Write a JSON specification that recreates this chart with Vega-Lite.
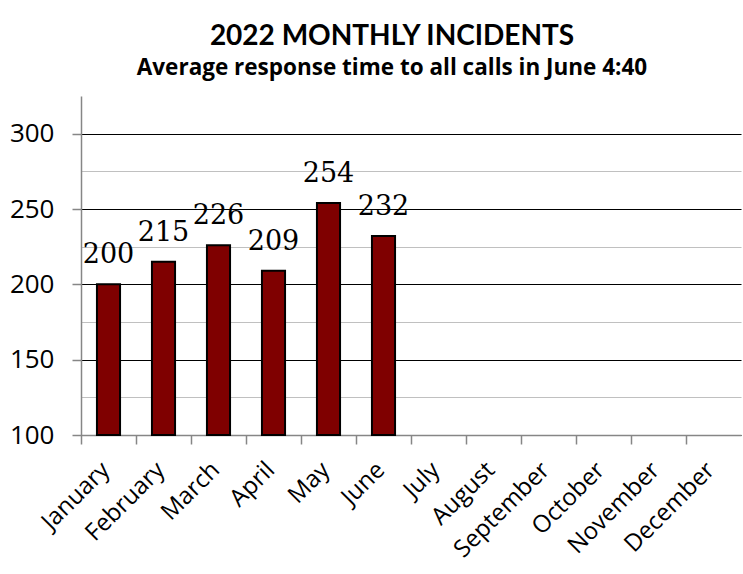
{
  "$schema": "https://vega.github.io/schema/vega-lite/v6.json",
  "width": 660,
  "height": 339,
  "autosize": {"type": "none"},
  "padding": {"left": 81, "top": 96, "right": 2, "bottom": 139},
  "background": "white",
  "title": {
    "text": "2022 MONTHLY INCIDENTS",
    "subtitle": "Average response time to all calls in June 4:40",
    "anchor": "middle",
    "frame": "group",
    "dx": -19,
    "offset": 17,
    "font": "Lato",
    "fontSize": 28,
    "fontWeight": "bold",
    "color": "black",
    "subtitleFont": "Open Sans",
    "subtitleFontSize": 22.5,
    "subtitleFontWeight": "bold",
    "subtitleColor": "black",
    "subtitlePadding": 6
  },
  "data": {
    "values": [
      {"month": "January", "incidents": 200},
      {"month": "February", "incidents": 215},
      {"month": "March", "incidents": 226},
      {"month": "April", "incidents": 209},
      {"month": "May", "incidents": 254},
      {"month": "June", "incidents": 232},
      {"month": "July", "incidents": null},
      {"month": "August", "incidents": null},
      {"month": "September", "incidents": null},
      {"month": "October", "incidents": null},
      {"month": "November", "incidents": null},
      {"month": "December", "incidents": null}
    ]
  },
  "encoding": {
    "x": {
      "field": "month",
      "type": "nominal",
      "sort": null,
      "scale": {
        "domain": ["January", "February", "March", "April", "May", "June", "July", "August", "September", "October", "November", "December"],
        "paddingInner": 0.58,
        "paddingOuter": 0.29
      },
      "axis": {
        "title": null,
        "bandPosition": 0,
        "tickOffset": -16,
        "labelOffset": 13,
        "labelAngle": -45,
        "labelAlign": "right",
        "labelBaseline": "middle",
        "labelFont": "Open Sans",
        "labelFontSize": 24,
        "labelColor": "black",
        "labelPadding": 22,
        "domainColor": "#868686",
        "domainWidth": 1.5,
        "tickColor": "#868686",
        "tickWidth": 1.5,
        "tickSize": 9,
        "grid": false
      }
    },
    "y": {
      "field": "incidents",
      "type": "quantitative",
      "scale": {"domain": [100, 325], "nice": false, "zero": false},
      "axis": {
        "title": null,
        "values": [100, 125, 150, 175, 200, 225, 250, 275, 300],
        "labelExpr": "datum.value % 50 === 0 ? datum.label : ''",
        "labelFont": "Open Sans",
        "labelFontSize": 26,
        "labelColor": "black",
        "labelPadding": 18,
        "domainColor": "#868686",
        "domainWidth": 1.5,
        "tickColor": "#868686",
        "tickWidth": 1.5,
        "tickSize": 9,
        "tickOpacity": {"condition": {"test": "datum.value % 50 === 0", "value": 1}, "value": 0},
        "grid": true,
        "gridColor": {"condition": {"test": "datum.value % 50 === 0", "value": "#000000"}, "value": "#c0c0c0"},
        "gridWidth": 1.2
      }
    }
  },
  "layer": [
    {
      "mark": {"type": "bar", "color": "#7f0000", "stroke": "black", "strokeWidth": 2},
      "encoding": {"y2": {"datum": 100}}
    },
    {
      "mark": {"type": "text", "baseline": "bottom", "dy": -15, "font": "DejaVu Serif", "fontSize": 27, "color": "black"},
      "encoding": {"text": {"field": "incidents", "type": "quantitative"}}
    }
  ],
  "config": {"view": {"stroke": null}}
}
